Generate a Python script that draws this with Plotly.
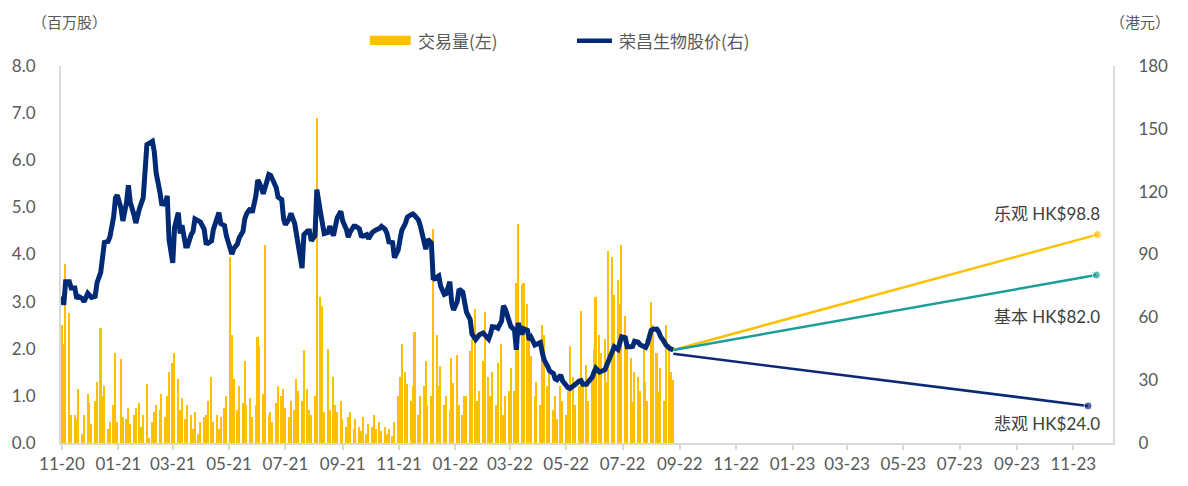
import pandas as pd
import plotly.graph_objects as go

# ---------------- data ----------------
start_date = "2020-11-09"

volume = [
    2.5, 2.1, 3.8, 2.75, 0.6, 0.6, 0.5, 1.15, 0.2, 0.6, 1.05,
    0.85, 0.4, 0.9, 1.3, 2.45, 1.0, 1.2, 0.3, 0.45, 0.8,
    1.9, 0.45, 1.78, 0.55, 0.5, 0.75, 0.4, 0.6, 0.75, 0.85,
    0.35, 0.6, 1.25, 0.1, 0.45, 0.65, 0.8, 0.7, 1.05, 0.55,
    1.0, 1.5, 1.7, 1.9, 1.35, 0.7, 0.95, 0.5, 0.8, 0.6,
    0.3, 0.65, 0.2, 0.45, 0.55, 0.6, 0.9, 1.4, 0.45, 0.6,
    0.3, 0.55, 0.75, 1.0, 3.95, 2.3, 1.35, 0.7, 1.2, 0.85,
    1.75, 0.8, 0.95, 0.55, 0.8, 2.25, 2.05, 1.05, 4.2, 0.6,
    0.65, 0.45, 0.85, 1.2, 1.0, 1.15, 0.75, 0.55, 0.9, 0.7,
    1.35, 1.1, 0.9, 1.98, 1.15, 0.7, 0.6, 1.0, 6.9, 3.1,
    2.9, 0.65, 2.0, 0.7, 1.4, 0.8, 0.65, 0.9, 0.5, 0.35,
    0.55, 0.65, 0.3, 0.5, 0.35, 0.25, 0.55, 0.2, 0.4, 0.35,
    0.6, 0.3, 0.45, 0.25, 0.35, 0.2, 0.3, 0.15, 0.45, 1.0,
    1.4, 2.1, 1.5, 1.25, 0.9, 1.2, 2.35, 0.6, 1.0, 1.2,
    1.74, 0.8, 1.0, 4.55, 2.3, 1.2, 1.64, 0.8, 1.0, 0.7,
    1.8, 1.28, 1.87, 0.8, 0.6, 1.0, 1.0, 1.95, 2.2, 2.84,
    0.9, 1.1, 1.74, 2.78, 1.4, 1.0, 1.5, 0.8, 1.7, 2.1,
    0.6, 1.0, 1.1, 1.6, 1.1, 3.4, 4.64, 3.36, 3.4, 2.94,
    2.3, 1.85, 1.0, 1.3, 0.8, 2.5, 2.3, 1.2, 1.6, 0.7,
    1.0, 0.5, 1.2, 0.9, 0.6, 1.1, 2.05, 1.4, 0.8, 1.2,
    2.8, 1.2, 1.65, 0.9, 1.4, 2.0, 3.1, 2.3, 1.9, 2.2,
    1.3, 4.08, 3.94, 3.15, 3.46, 2.94, 4.2, 2.7, 2.2, 1.8,
    0.87, 1.5, 1.4, 1.1, 2.0, 1.3, 0.9, 3.0, 2.5, 1.9,
    1.08, 1.6, 0.9, 2.5, 2.1, 1.5, 1.33,
]

price = [
    70, 66, 77, 77, 74, 74, 69, 70, 69, 67.5, 71.5,
    70, 69.5, 70, 76.5, 81.5, 90, 95.8, 96.3, 98.5, 108,
    117, 118.3, 112, 106, 115, 123, 115, 109, 105, 112,
    115.5, 117, 142.4, 143.2, 144, 139, 129, 120, 114.2, 114,
    118, 97, 86, 103, 110, 100, 104, 94, 94, 99.5,
    101, 107, 106.2, 105.5, 102, 95.5, 95.3, 96.5, 102, 108.5,
    110, 104.7, 103.8, 99, 93, 90.2, 92.8, 95, 98, 101,
    107, 109.5, 112, 110, 118, 125.6, 124, 119, 122, 128.2,
    127.8, 125.6, 122, 117.4, 116.2, 107, 104.2, 107, 109.7, 104.8,
    99, 92, 83.5, 99.5, 101.2, 101.2, 96.5, 99, 121, 110,
    106.3, 100, 100.5, 103.5, 99, 102.2, 107.5, 110.6, 106, 102,
    98.3, 100.7, 103.5, 103.5, 102.3, 99, 98.8, 99.5, 97.5, 100.5,
    101.4, 101.7, 102.5, 103.4, 102, 100, 96, 95.7, 88.5, 92,
    97, 101.5, 105, 107.9, 109, 109.4, 108.6, 106.5, 103.8, 97,
    92.5, 97.2, 95.5, 78, 79, 79.8, 75, 70.9, 71.3, 77,
    67, 63.5, 67.5, 73.5, 72, 66, 62.5, 59, 52, 49.4,
    50.6, 51.7, 52.5, 51.5, 49.6, 52, 55.5, 55.3, 54.8, 58.2,
    65.5, 64, 59.5, 55.7, 53.9, 44.5, 57.3, 51.8, 54.5, 53.8,
    49.3, 50.4, 46.8, 47.4, 48, 43.4, 39.8, 36.5, 34.4, 33.2,
    30.7, 30.2, 32.5, 29.7, 27.2, 26.4, 26, 26.9, 28, 29.6,
    29.8, 28.1, 28.1, 29.3, 31.3, 33.7, 35.7, 33.9, 34.2, 35,
    37.3, 39.8, 43, 45.9, 44.7, 49, 50.7, 50.2, 46, 46,
    46.2, 48.6, 48.1, 46.9, 46.2, 45.6, 47.5, 53.8, 54.3, 54.4,
    53.2, 50.9, 48.4, 46.8, 45.2, 44.8, 44.4,
]

series_names = ["交易量(左)", "荣昌生物股价(右)"]
scenario_names = ["乐观", "基本", "悲观"]
scenario_labels = ["乐观 HK$98.8", "基本 HK$82.0", "悲观 HK$24.0"]
scenario_start = [44.4, 44.4, 42.6]
scenario_end = [99.5, 80.2, 17.7]
scenario_end_dates = ["2023-12-05", "2023-12-04", "2023-11-25"]
scenario_colors = ["#FFC000", "#1A9E9A", "#0B2A73"]

dates = pd.bdate_range(start_date, periods=len(volume), freq="2B")

# ---------------- figure ----------------
YEL = "#FFC000"
NAVY = "#002A76"
GRAY = "#595959"
AX = "#D9D9D9"
NUMFONT = "Lato"
CJK = "Noto Sans CJK SC"

fig = go.Figure()
fig.add_trace(go.Bar(
    x=dates, y=volume, name=series_names[0], showlegend=False,
    marker=dict(color=YEL, line=dict(width=0)),
    width=1.7 * 86400000, yaxis="y",
))
fig.add_trace(go.Scatter(
    x=dates, y=price, name=series_names[1], mode="lines", showlegend=False,
    line=dict(color=NAVY, width=5), yaxis="y2",
))
last_date = dates[-1]
for i in range(len(scenario_names)):
    fig.add_trace(go.Scatter(
        x=[last_date, pd.Timestamp(scenario_end_dates[i])],
        y=[scenario_start[i], scenario_end[i]],
        mode="lines+markers", showlegend=False,
        line=dict(color=scenario_colors[i], width=2.5),
        marker=dict(size=[0, 8], color=scenario_colors[i]),
        yaxis="y2", name=scenario_names[i],
    ))

annotations = []
for i in range(len(scenario_labels)):
    annotations.append(dict(
        x=pd.Timestamp(scenario_end_dates[0]), y=scenario_end[i], xref="x", yref="y2",
        text=scenario_labels[i], showarrow=False, xanchor="right", yanchor="middle",
        xshift=5, yshift=[21, -41, -18][i],
        font=dict(family=f"{NUMFONT}, {CJK}", size=17, color="#404040"),
    ))
# axis unit titles
annotations.append(dict(x=-0.029, y=1.119, xref="paper", yref="paper", yanchor="middle",
                        xanchor="left", text="（百万股）", showarrow=False,
                        font=dict(family=CJK, size=15, color=GRAY)))
annotations.append(dict(x=0.995, y=1.119, xref="paper", yref="paper", yanchor="middle",
                        xanchor="left", text="（港元）", showarrow=False,
                        font=dict(family=CJK, size=15, color=GRAY)))
# legend (drawn manually to match the wide swatches)
annotations.append(dict(x=0.3376, y=1.067, xref="paper", yref="paper", yanchor="middle",
                        xanchor="left", text=series_names[0], showarrow=False,
                        font=dict(family=CJK, size=17, color=GRAY)))
annotations.append(dict(x=0.5284, y=1.067, xref="paper", yref="paper", yanchor="middle",
                        xanchor="left", text=series_names[1], showarrow=False,
                        font=dict(family=CJK, size=17, color=GRAY)))
shapes = [
    dict(type="rect", xref="paper", yref="paper", x0=0.2936, x1=0.3324,
         y0=1.056, y1=1.080, fillcolor=YEL, line=dict(width=0)),
    dict(type="line", xref="paper", yref="paper", x0=0.4905, x1=0.5237,
         y0=1.067, y1=1.067, line=dict(color=NAVY, width=4.5)),
]

fig.update_layout(
    width=1188, height=486,
    margin=dict(l=57, r=75, t=66, b=34),
    paper_bgcolor="white", plot_bgcolor="white",
    showlegend=False,
    annotations=annotations,
    shapes=shapes,
    bargap=0,
    xaxis=dict(
        type="date", range=["2020-11-08", "2023-12-22"],
        tick0="2020-11-09", dtick="M2", tickformat="%m-%y",
        ticks="outside", ticklen=5, tickcolor=AX, tickwidth=1.5,
        showline=True, linecolor=AX, linewidth=2, showgrid=False, zeroline=False,
        tickfont=dict(family=NUMFONT, size=17, color=GRAY),
    ),
    yaxis=dict(
        range=[0, 8], dtick=1, tickformat=".1f", showgrid=False, zeroline=False,
        showline=True, linecolor=AX, linewidth=2, ticks="", ticklabelstandoff=20,
        tickfont=dict(family=NUMFONT, size=17, color=GRAY),
    ),
    yaxis2=dict(
        range=[0, 180], dtick=30, overlaying="y", side="right", showgrid=False,
        zeroline=False, showline=True, linecolor=AX, linewidth=2, ticks="",
        ticklabelstandoff=20,
        tickfont=dict(family=NUMFONT, size=17, color=GRAY),
    ),
)

fig.write_html("out.html")
